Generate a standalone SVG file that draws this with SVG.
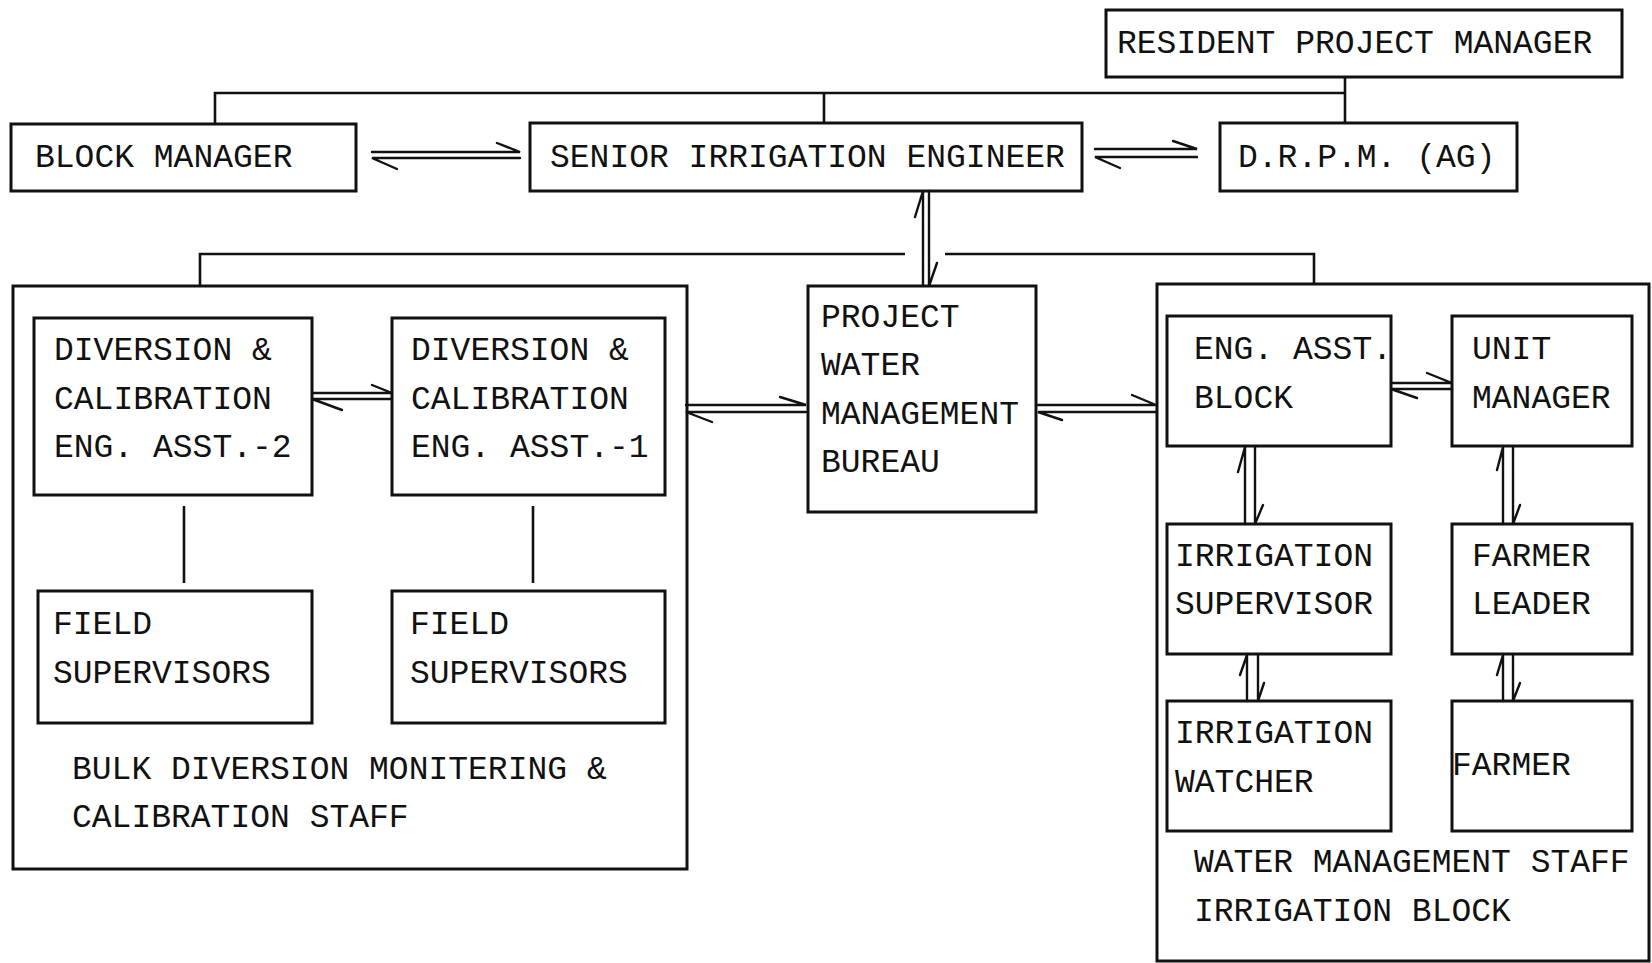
<svg xmlns="http://www.w3.org/2000/svg" width="1652" height="963" viewBox="0 0 1652 963">
<style>
.box{fill:none;stroke:#111;stroke-width:3}
.ln{fill:none;stroke:#111;stroke-width:2.6}
.hp{fill:none;stroke:#111;stroke-width:2.4;stroke-linecap:round}
.t{font-family:"Liberation Mono","Courier New",monospace;font-size:33px;fill:#111}
</style>
<rect width="1652" height="963" fill="#fff"/>
<g id="connectors">
<path class="ln" d="M215 124V93H1345M824 93V123M1345 77V124"/>
<path class="ln" d="M200 286V254H905M945 254H1314V284"/>
<path class="ln" d="M184 506V583M533 506V583"/>
<!-- BM <-> SIE -->
<path class="hp" d="M372 152H520L497 143M520 158H372L397 169"/>
<!-- SIE <-> DRPM -->
<path class="hp" d="M1095 149H1197L1173 141M1197 157H1095L1120 168"/>
<!-- SIE <-> PWMB vertical -->
<path class="hp" d="M923 286V191L915 217M929 191V286L937 263"/>
<!-- EA2 <-> EA1 -->
<path class="hp" d="M312 393H392L372 385M392 399H312L342 410"/>
<!-- left box <-> PWMB -->
<path class="hp" d="M686 405H806L780 397M806 412H686L712 422"/>
<!-- PWMB <-> right box -->
<path class="hp" d="M1038 405H1156L1132 395M1156 412H1038L1062 420"/>
<!-- EAB <-> UM -->
<path class="hp" d="M1391 383H1452L1427 373M1452 389H1391L1417 398"/>
<!-- EAB <-> IS -->
<path class="hp" d="M1245 524V447L1238 472M1255 447V524L1263 505"/>
<!-- UM <-> FL -->
<path class="hp" d="M1503 524V447L1497 470M1513 447V524L1520 505"/>
<!-- IS <-> IW -->
<path class="hp" d="M1247 701V655L1240 675M1258 655V701L1264 683"/>
<!-- FL <-> Farmer -->
<path class="hp" d="M1503 701V655L1497 675M1513 655V701L1520 683"/>
</g>
<g id="rpm"><rect class="box" x="1106" y="10" width="516" height="67"/><text class="t" x="1117" y="53">RESIDENT PROJECT MANAGER</text></g>
<g id="block-manager"><rect class="box" x="11" y="124" width="345" height="67"/><text class="t" x="35" y="167">BLOCK MANAGER</text></g>
<g id="senior-irrigation-engineer"><rect class="box" x="530" y="123" width="552" height="68"/><text class="t" x="550" y="167">SENIOR IRRIGATION ENGINEER</text></g>
<g id="drpm"><rect class="box" x="1220" y="123" width="297" height="68"/><text class="t" x="1238" y="167">D.R.P.M. (AG)</text></g>
<g id="bulk-diversion-staff"><rect class="box" x="13" y="286" width="674" height="583"/><text class="t" x="72" y="779">BULK DIVERSION MONITERING &amp;</text><text class="t" x="72" y="827">CALIBRATION STAFF</text></g>
<g id="dc-ea2"><rect class="box" x="34" y="318" width="278" height="177"/><text class="t" x="54" y="360">DIVERSION &amp;</text><text class="t" x="54" y="409">CALIBRATION</text><text class="t" x="54" y="457">ENG. ASST.-2</text></g>
<g id="dc-ea1"><rect class="box" x="392" y="318" width="273" height="177"/><text class="t" x="411" y="360">DIVERSION &amp;</text><text class="t" x="411" y="409">CALIBRATION</text><text class="t" x="411" y="457">ENG. ASST.-1</text></g>
<g id="field-sup-1"><rect class="box" x="38" y="591" width="274" height="132"/><text class="t" x="53" y="634">FIELD</text><text class="t" x="53" y="683">SUPERVISORS</text></g>
<g id="field-sup-2"><rect class="box" x="392" y="591" width="273" height="132"/><text class="t" x="410" y="634">FIELD</text><text class="t" x="410" y="683">SUPERVISORS</text></g>
<g id="pwmb"><rect class="box" x="808" y="286" width="228" height="226"/><text class="t" x="821" y="327">PROJECT</text><text class="t" x="821" y="375">WATER</text><text class="t" x="821" y="424">MANAGEMENT</text><text class="t" x="821" y="472">BUREAU</text></g>
<g id="water-management-staff"><rect class="box" x="1157" y="284" width="492" height="677"/><text class="t" x="1194" y="872">WATER MANAGEMENT STAFF</text><text class="t" x="1194" y="921">IRRIGATION BLOCK</text></g>
<g id="eng-asst-block"><rect class="box" x="1167" y="316" width="224" height="130"/><text class="t" x="1194" y="359">ENG. ASST.</text><text class="t" x="1194" y="408">BLOCK</text></g>
<g id="unit-manager"><rect class="box" x="1452" y="316" width="180" height="130"/><text class="t" x="1472" y="359">UNIT</text><text class="t" x="1472" y="408">MANAGER</text></g>
<g id="irrigation-supervisor"><rect class="box" x="1167" y="524" width="224" height="130"/><text class="t" x="1175" y="566">IRRIGATION</text><text class="t" x="1175" y="614">SUPERVISOR</text></g>
<g id="farmer-leader"><rect class="box" x="1452" y="524" width="180" height="130"/><text class="t" x="1472" y="566">FARMER</text><text class="t" x="1472" y="614">LEADER</text></g>
<g id="irrigation-watcher"><rect class="box" x="1167" y="701" width="224" height="130"/><text class="t" x="1175" y="743">IRRIGATION</text><text class="t" x="1175" y="792">WATCHER</text></g>
<g id="farmer"><rect class="box" x="1452" y="701" width="180" height="130"/><text class="t" x="1452" y="775">FARMER</text></g>
</svg>
